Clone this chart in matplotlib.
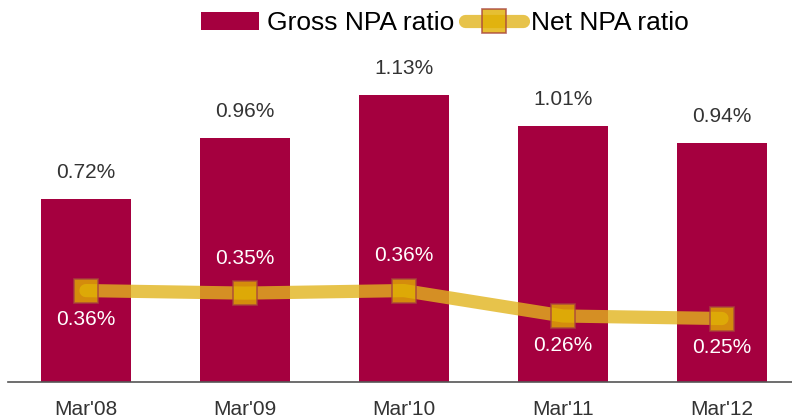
import numpy as np
import matplotlib.pyplot as plt

plt.rcParams['font.family'] = ['Liberation Sans', 'DejaVu Sans']

# Data
periods = ["Mar'08", "Mar'09", "Mar'10", "Mar'11", "Mar'12"]
gross_npa = [0.72, 0.96, 1.13, 1.01, 0.94]
net_npa = [0.36, 0.35, 0.36, 0.26, 0.25]
net_label_above = [False, True, True, False, False]

bar_color = '#A5003F'
line_color = '#E2B41E'

fig = plt.figure(figsize=(7.92, 4.19), dpi=100)
ax = fig.add_axes([8 / 792, (419 - 382) / 419, 784 / 792, (382 - 45) / 419])

x = np.arange(len(periods))
bars = ax.bar(x, gross_npa, width=0.57, color=bar_color, label='Gross NPA ratio', zorder=2)
line, = ax.plot(x, net_npa, color=line_color, alpha=0.8, linewidth=9.5, solid_capstyle='round',
                marker='s', markersize=17.5, markerfacecolor='#E0B000', markeredgecolor='#A8453C',
                markeredgewidth=1.2, label='Net NPA ratio', zorder=3)

# Value labels
for xi, v in zip(x, gross_npa):
    ax.annotate(f'{v:.2f}%', (xi, v), xytext=(0, 19), textcoords='offset points',
                ha='center', va='center', fontsize=15, color='#333333')
for xi, v, above in zip(x, net_npa, net_label_above):
    dy = 25 if above else -21
    ax.annotate(f'{v:.2f}%', (xi, v), xytext=(0, dy), textcoords='offset points',
                ha='center', va='center', fontsize=15, color='white', zorder=4)

ax.set_xlim(-0.49, 4.44)
ax.set_ylim(0, 1.327)
ax.set_xticks(x)
ax.set_xticklabels(periods, fontsize=15, color='#333333')
ax.tick_params(axis='x', length=0, pad=13)
ax.set_yticks([])
for side in ['top', 'right', 'left']:
    ax.spines[side].set_visible(False)
ax.spines['bottom'].set_color('#555555')
ax.spines['bottom'].set_linewidth(1.2)

fig.legend([bars, line], ['Gross NPA ratio', 'Net NPA ratio'],
           loc='upper center', bbox_to_anchor=(0.562, 1.03), ncol=2, frameon=False,
           fontsize=19, handlelength=2.2, handletextpad=0.3, columnspacing=0.4)

fig.savefig('out.png', dpi=100)
